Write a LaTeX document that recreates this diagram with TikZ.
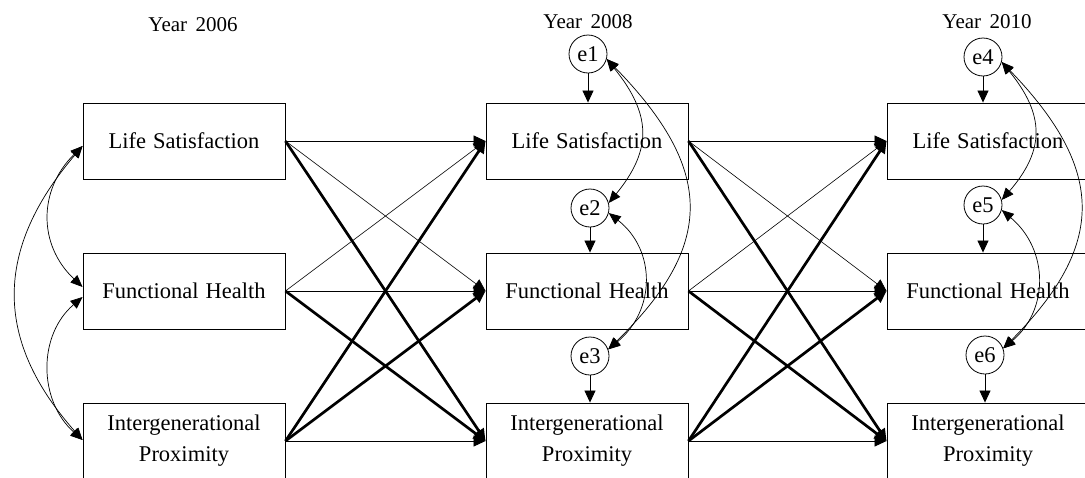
\documentclass[tikz,border=0pt]{standalone}
\usepackage{fontspec}
\setmainfont{Liberation Serif}
\usetikzlibrary{arrows.meta,calc}
\begin{document}
\begin{tikzpicture}[x=1pt,y=-1pt,
  font={\fontsize{22.5}{31}\selectfont\spaceskip=0.32em\relax},
  yearlabel/.style={font={\fontsize{21}{25}\selectfont\spaceskip=0.4em\relax}},
  box/.style={draw, line width=0.9pt, minimum width=202pt, minimum height=76pt, inner sep=0pt, align=center},
  err/.style={draw, circle, line width=0.8pt, minimum size=38pt, inner sep=0pt},
  tip/.style={-{Triangle[length=12pt,width=11pt]}},
  normpath/.style={tip, line width=0.85pt},
  thinpath/.style={tip, line width=0.6pt},
  thickpath/.style={tip, line width=2.7pt},
  cov/.style={{Triangle[length=12pt,width=10pt]}-{Triangle[length=12pt,width=10pt]}, line width=0.7pt},
  errarrow/.style={-{Triangle[length=12pt,width=11pt]}, line width=0.8pt}]
\clip (0,0) rectangle (1085,477);
% year labels
\node[yearlabel] (y06) at (193,25) {Year 2006};
\node[yearlabel] (y08) at (588,22) {Year 2008};
\node[yearlabel] (y10) at (987,22) {Year 2010};
% boxes
\foreach \c/\x in {1/184,2/587,3/988}{
  \node[box] (c\c ls) at (\x,141) {Life Satisfaction};
  \node[box] (c\c fh) at (\x,291) {Functional Health};
  \node[box] (c\c ip) at (\x,441) {Intergenerational\\Proximity};
}
% error terms
\node[err] (e1) at (588,54) {e1};
\node[err] (e2) at (590,208) {e2};
\node[err] (e3) at (590,356) {e3};
\node[err] (e4) at (983,57) {e4};
\node[err] (e5) at (983,205) {e5};
\node[err] (e6) at (985,355) {e6};
\draw[errarrow] (e1.south) -- (e1.south |- c2ls.north);
\draw[errarrow] (e2.south) -- (e2.south |- c2fh.north);
\draw[errarrow] (e3.south) -- (e3.south |- c2ip.north);
\draw[errarrow] (e4.south) -- (e4.south |- c3ls.north);
\draw[errarrow] (e5.south) -- (e5.south |- c3fh.north);
\draw[errarrow] (e6.south) -- (e6.south |- c3ip.north);
% cross-lagged paths
\foreach \a/\b in {1/2,2/3}{
  \draw[normpath] (c\a ls.east) -- (c\b ls.west);
  \draw[thinpath] (c\a ls.east) -- (c\b fh.west);
  \draw[thickpath] (c\a ls.east) -- (c\b ip.west);
  \draw[thinpath] (c\a fh.east) -- (c\b ls.west);
  \draw[normpath] (c\a fh.east) -- (c\b fh.west);
  \draw[thickpath] (c\a fh.east) -- (c\b ip.west);
  \draw[thickpath] (c\a ip.east) -- (c\b ls.west);
  \draw[thickpath] (c\a ip.east) -- (c\b fh.west);
  \draw[normpath] (c\a ip.east) -- (c\b ip.west);
}
% covariances 2006
\coordinate (l1) at ($(c1ls.west)+(0,5)$);
\coordinate (l2a) at ($(c1fh.west)+(0,-4)$);
\coordinate (l2b) at ($(c1fh.west)+(0,6)$);
\coordinate (l3) at ($(c1ip.west)+(0,-1)$);
\draw[cov] (l1) .. controls (38,190) and (38,245) .. (l2a);
\draw[cov] (l2b) .. controls (38,335) and (38,400) .. (l3);
\draw[cov] (l1) .. controls (-6,250) and (-6,340) .. (l3);
% covariances 2008
\draw[cov] (e1.-15) .. controls (652,115) and (652,150) .. (e2.15);
\draw[cov] (e2.-15) .. controls (656,250) and (656,310) .. (e3.20);
\draw[cov] (e1.-15) .. controls (715,170) and (715,245) .. (e3.20);
% covariances 2010
\draw[cov] (e4.-15) .. controls (1045,115) and (1045,150) .. (e5.15);
\draw[cov] (e5.-15) .. controls (1049,250) and (1049,310) .. (e6.20);
\draw[cov] (e4.-15) .. controls (1106,170) and (1106,245) .. (e6.20);
\end{tikzpicture}
\end{document}
